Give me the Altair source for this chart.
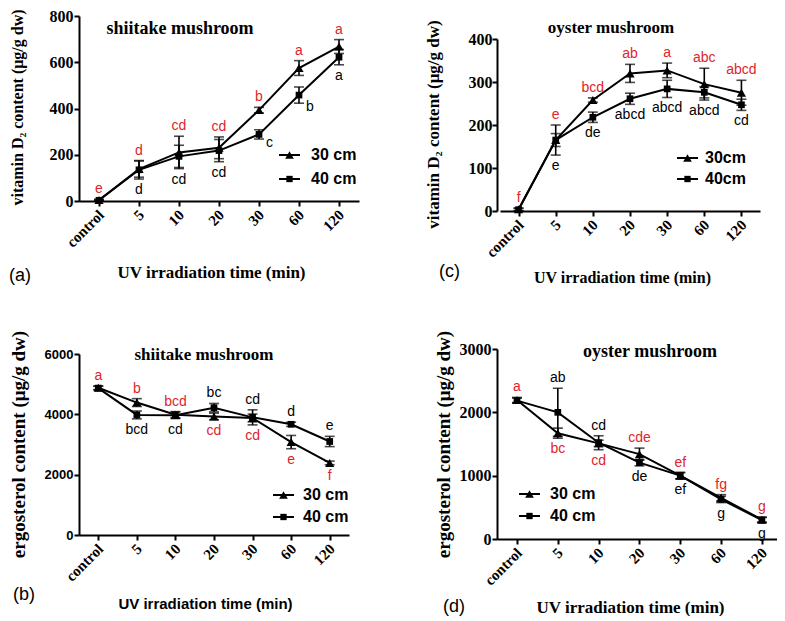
import altair as alt
import pandas as pd

CATS = ["control", "5", "10", "20", "30", "60", "120"]
SERIES = ["30 cm", "40 cm"]
RED = "#e0242a"
SERIF = "Liberation Serif"
SANS = "Liberation Sans"

# (a) vitamin D2, shiitake
A_30 = [4, 138, 210, 230, 393, 575, 668]
A_30_ERR = [3, 35, 70, 47, 12, 32, 30]
A_40 = [3, 135, 193, 218, 288, 458, 622]
A_40_ERR = [3, 40, 48, 48, 20, 35, 33]
A_TOP = ["e", "d", "cd", "cd", "b", "a", "a"]
A_TOP_SER = ["30 cm"] * 7
A_BOT = ["", "d", "cd", "cd", "", "", "a"]
A_BOT_SER = ["40 cm"] * 7
A_RIGHT = ["", "", "", "", "c", "b", ""]
A_RIGHT_SER = ["40 cm"] * 7

# (c) vitamin D2, oyster
C_30 = [4, 165, 258, 320, 327, 295, 275]
C_30_ERR = [3, 35, 5, 21, 17, 37, 29]
C_40 = [3, 165, 218, 261, 284, 276, 247]
C_40_ERR = [3, 15, 12, 13, 20, 13, 13]
C_TOP = ["f", "e", "bcd", "ab", "a", "abc", "abcd"]
C_TOP_SER = ["30 cm"] * 7
C_BOT = ["", "e", "de", "abcd", "abcd", "abcd", "cd"]
C_BOT_SER = ["40 cm"] * 7

# (b) ergosterol, shiitake
B_30 = [4880, 4390, 3990, 3930, 3880, 3080, 2390]
B_30_ERR = [60, 130, 100, 110, 130, 220, 60]
B_40 = [4870, 3980, 3970, 4220, 3900, 3670, 3100]
B_40_ERR = [60, 130, 110, 140, 250, 70, 170]
B_TOP = ["a", "b", "bcd", "bc", "cd", "d", "e"]
B_TOP_SER = ["30 cm", "30 cm", "30 cm", "40 cm", "40 cm", "40 cm", "40 cm"]
B_BOT = ["", "bcd", "cd", "cd", "cd", "e", "f"]
B_BOT_SER = ["40 cm", "40 cm", "40 cm", "30 cm", "30 cm", "30 cm", "30 cm"]

# (d) ergosterol, oyster
D_30 = [2195, 1670, 1510, 1340, 1000, 650, 305]
D_30_ERR = [40, 80, 50, 95, 50, 50, 40]
D_40 = [2185, 2000, 1520, 1205, 1000, 625, 300]
D_40_ERR = [40, 380, 110, 50, 50, 50, 40]
D_TOP = ["a", "ab", "cd", "cde", "ef", "fg", "g"]
D_TOP_SER = ["30 cm", "40 cm", "40 cm", "30 cm", "30 cm", "30 cm", "30 cm"]
D_BOT = ["", "bc", "cd", "de", "ef", "g", "g"]
D_BOT_SER = ["40 cm", "30 cm", "30 cm", "40 cm", "40 cm", "40 cm", "40 cm"]

XTITLE = "UV irradiation time (min)"
D2_TITLE = "vitamin D\u2082 content (\u03bcg/g dw)"
ERG_TITLE = "ergosterol content (\u03bcg/g dw)"


def series_df(v30, e30, v40, e40):
    rows = []
    for s, vals, errs in ((SERIES[0], v30, e30), (SERIES[1], v40, e40)):
        for c, v, e in zip(CATS, vals, errs):
            rows.append({"cat": c, "series": s, "value": v, "lo": v - e, "hi": v + e})
    return pd.DataFrame(rows)


def label_df(df, texts, sers, where):
    g = df.groupby("cat")
    if where == "above":
        ys = g["hi"].max()
    elif where == "below":
        ys = g["lo"].min()
    else:
        ys = df[df["series"] == SERIES[1]].set_index("cat")["lo"]
    rows = [{"cat": c, "text": t, "series": s, "y": float(ys[c])}
            for c, t, s in zip(CATS, texts, sers) if t]
    return pd.DataFrame(rows)


def panel(df, labels, cfg):
    xaxis = alt.Axis(
        title=XTITLE, labelAngle=315, labelAlign="right", labelBaseline="middle",
        labelFont=SERIF, labelFontWeight="bold", labelFontSize=15, labelPadding=6, labelOffset=2,
        titleFont=cfg["xtitle_font"], titleFontWeight="bold", titleFontSize=cfg["xtitle_size"],
        titleX=cfg["xtitle_x"], titleY=cfg["xtitle_y"], titleBaseline="middle", titleAlign="center",
    )
    if "xrange" in cfg:
        xscale = alt.Scale(type="point", padding=cfg["xpad"], align=cfg["xalign"], range=cfg["xrange"])
    else:
        xscale = alt.Scale(type="point", padding=cfg["xpad"], align=cfg["xalign"])
    X = alt.X("cat:N", sort=CATS, scale=xscale, axis=xaxis)
    yaxis = alt.Axis(
        title=cfg["ytitle"], values=cfg["yvals"], format="d",
        labelFont=cfg["ylab_font"], labelFontWeight="bold", labelFontSize=cfg["ylab_size"],
        labelPadding=cfg.get("ylab_pad", 1),
        titleFont=SERIF, titleFontWeight="bold", titleFontSize=cfg["ytitle_size"],
        titleAngle=270, titleX=cfg["ytitle_x"], titleY=cfg["ytitle_y"],
        titleAlign="center", titleBaseline="middle",
    )
    if "yrange" in cfg:
        yscale = alt.Scale(domain=cfg["ydomain"], nice=False, range=cfg["yrange"])
    else:
        yscale = alt.Scale(domain=cfg["ydomain"], nice=False)

    def Y(field):
        return alt.Y(field, type="quantitative", scale=yscale, axis=yaxis)

    base = alt.Chart(df)
    line = base.mark_line(color="black", strokeWidth=2).encode(x=X, y=Y("value"), detail="series:N")
    rule = base.mark_rule(color="black", strokeWidth=1.6).encode(x=X, y=Y("lo"), y2="hi:Q")
    tlo = base.mark_tick(color="black", thickness=1.6, size=10).encode(x=X, y=Y("lo"))
    thi = base.mark_tick(color="black", thickness=1.6, size=10).encode(x=X, y=Y("hi"))
    pts = base.mark_point(filled=True, color="black", opacity=1).encode(
        x=X, y=Y("value"),
        shape=alt.Shape("series:N", scale=alt.Scale(domain=SERIES, range=["triangle-up", "square"]), legend=None),
        size=alt.Size("series:N", scale=alt.Scale(domain=SERIES, range=[85, 45]), legend=None),
    )
    layers = [line, rule, tlo, thi, pts]
    col = alt.Color("series:N", scale=alt.Scale(domain=SERIES, range=[RED, "black"]), legend=None)
    for where, ldf in labels:
        if ldf.empty:
            continue
        if where == "above":
            mk = alt.Chart(ldf).mark_text(font=SANS, fontSize=14, dy=-10, baseline="middle")
        elif where == "below":
            mk = alt.Chart(ldf).mark_text(font=SANS, fontSize=14, dy=11, baseline="middle")
        else:
            mk = alt.Chart(ldf).mark_text(font=SANS, fontSize=14, dx=7, dy=4, align="left", baseline="middle")
        layers.append(mk.encode(x=X, y=Y("y"), text="text:N", color=col))

    # panel title
    layers.append(
        alt.Chart(pd.DataFrame({"t": [cfg["title"]]})).mark_text(
            font=SERIF, fontWeight="bold", fontSize=cfg["title_size"], baseline="middle"
        ).encode(x=alt.value(cfg["title_xy"][0]), y=alt.value(cfg["title_xy"][1]), text="t:N")
    )
    # legend
    lx, tx, ly0, ly1 = cfg["legend"]
    for name, label, shape, size, ly in ((SERIES[0], cfg["leg_labels"][0], "triangle-up", 75, ly0),
                                        (SERIES[1], cfg["leg_labels"][1], "square", 40, ly1)):
        ldat = pd.DataFrame({"s": [label]})
        layers.append(alt.Chart(ldat).mark_rule(color="black", strokeWidth=2).encode(
            x=alt.value(lx), x2=alt.value(lx + 21), y=alt.value(ly)))
        layers.append(alt.Chart(ldat).mark_point(filled=True, color="black", opacity=1, shape=shape, size=size).encode(
            x=alt.value(lx + 10.5), y=alt.value(ly)))
        layers.append(alt.Chart(ldat).mark_text(font=SANS, fontWeight="bold", fontSize=16, align="left",
                                                baseline="middle").encode(
            x=alt.value(tx), y=alt.value(ly), text="s:N"))
    # panel letter
    layers.append(
        alt.Chart(pd.DataFrame({"t": [cfg["letter"]]})).mark_text(
            font=SANS, fontSize=18, align="left", baseline="middle"
        ).encode(x=alt.value(cfg["letter_xy"][0]), y=alt.value(cfg["letter_xy"][1]), text="t:N")
    )
    return alt.layer(*layers).properties(width=cfg["w"], height=cfg["h"])


dfa = series_df(A_30, A_30_ERR, A_40, A_40_ERR)
dfc = series_df(C_30, C_30_ERR, C_40, C_40_ERR)
dfb = series_df(B_30, B_30_ERR, B_40, B_40_ERR)
dfd = series_df(D_30, D_30_ERR, D_40, D_40_ERR)

pa = panel(dfa, [("above", label_df(dfa, A_TOP, A_TOP_SER, "above")),
                 ("below", label_df(dfa, A_BOT, A_BOT_SER, "below")),
                 ("right", label_df(dfa, A_RIGHT, A_RIGHT_SER, "right"))],
           dict(w=280, h=185, xpad=0.5, xalign=0.5, ydomain=[0, 800], yvals=[0, 200, 400, 600, 800],
                ytitle=D2_TITLE, ytitle_size=16, ytitle_x=-62, ytitle_y=91,
                ylab_font=SERIF, ylab_size=16,
                xtitle_font=SERIF, xtitle_size=17, xtitle_x=132, xtitle_y=71,
                title="shiitake mushroom", title_size=18, title_xy=(101, 13),
                legend=(200, 232, 139, 163), leg_labels=["30 cm", "40 cm"],
                letter="(a)", letter_xy=(-70, 260)))

pc = panel(dfc, [("above", label_df(dfc, C_TOP, C_TOP_SER, "above")),
                 ("below", label_df(dfc, C_BOT, C_BOT_SER, "below"))],
           dict(w=263, h=195, xpad=0.5, xalign=0.5, xrange=[3, 263],
                ydomain=[0, 400], yvals=[0, 100, 200, 300, 400], yrange=[195, 23],
                ytitle=D2_TITLE, ytitle_size=17, ytitle_x=-64, ytitle_y=108,
                ylab_font=SERIF, ylab_size=16, ylab_pad=0,
                xtitle_font=SERIF, xtitle_size=16, xtitle_x=125, xtitle_y=66,
                title="oyster mushroom", title_size=17, title_xy=(114, 12),
                legend=(180, 208, 142, 163), leg_labels=["30cm", "40cm"],
                letter="(c)", letter_xy=(-58, 256)))

pb = panel(dfb, [("above", label_df(dfb, B_TOP, B_TOP_SER, "above")),
                 ("below", label_df(dfb, B_BOT, B_BOT_SER, "below"))],
           dict(w=270, h=186, xpad=0.5, xalign=0.5,
                ydomain=[0, 6000], yvals=[0, 2000, 4000, 6000], yrange=[186, 5],
                ytitle=ERG_TITLE, ytitle_size=19, ytitle_x=-61, ytitle_y=95,
                ylab_font=SANS, ylab_size=13,
                xtitle_font=SANS, xtitle_size=15, xtitle_x=126, xtitle_y=68,
                title="shiitake mushroom", title_size=17, title_xy=(125, 6),
                legend=(194, 224, 146, 168), leg_labels=["30 cm", "40 cm"],
                letter="(b)", letter_xy=(-66, 246)))

pd_ = panel(dfd, [("above", label_df(dfd, D_TOP, D_TOP_SER, "above")),
                  ("below", label_df(dfd, D_BOT, D_BOT_SER, "below"))],
            dict(w=280, h=190, xpad=0.43, xalign=0.57,
                 ydomain=[0, 3000], yvals=[0, 1000, 2000, 3000],
                 ytitle=ERG_TITLE, ytitle_size=19, ytitle_x=-54, ytitle_y=95,
                 ylab_font=SERIF, ylab_size=16,
                 xtitle_font=SERIF, xtitle_size=17, xtitle_x=133, xtitle_y=68,
                 title="oyster mushroom", title_size=18, title_xy=(153, 3),
                 legend=(22, 53, 145, 167), leg_labels=["30 cm", "40 cm"],
                 letter="(d)", letter_xy=(-54, 258)))

chart = alt.concat(pa, pc, pb, pd_, columns=2, spacing=138, bounds="flush", align="each").properties(
    padding={"left": 0, "top": 0, "right": 0, "bottom": 0}
).configure_view(stroke=None).configure_axis(
    domainColor="black", domainWidth=2, tickColor="black", tickWidth=2, tickSize=5,
    grid=False, labelColor="black", titleColor="black"
)

chart.save("out.html", embed_options={"renderer": "svg", "actions": False})
